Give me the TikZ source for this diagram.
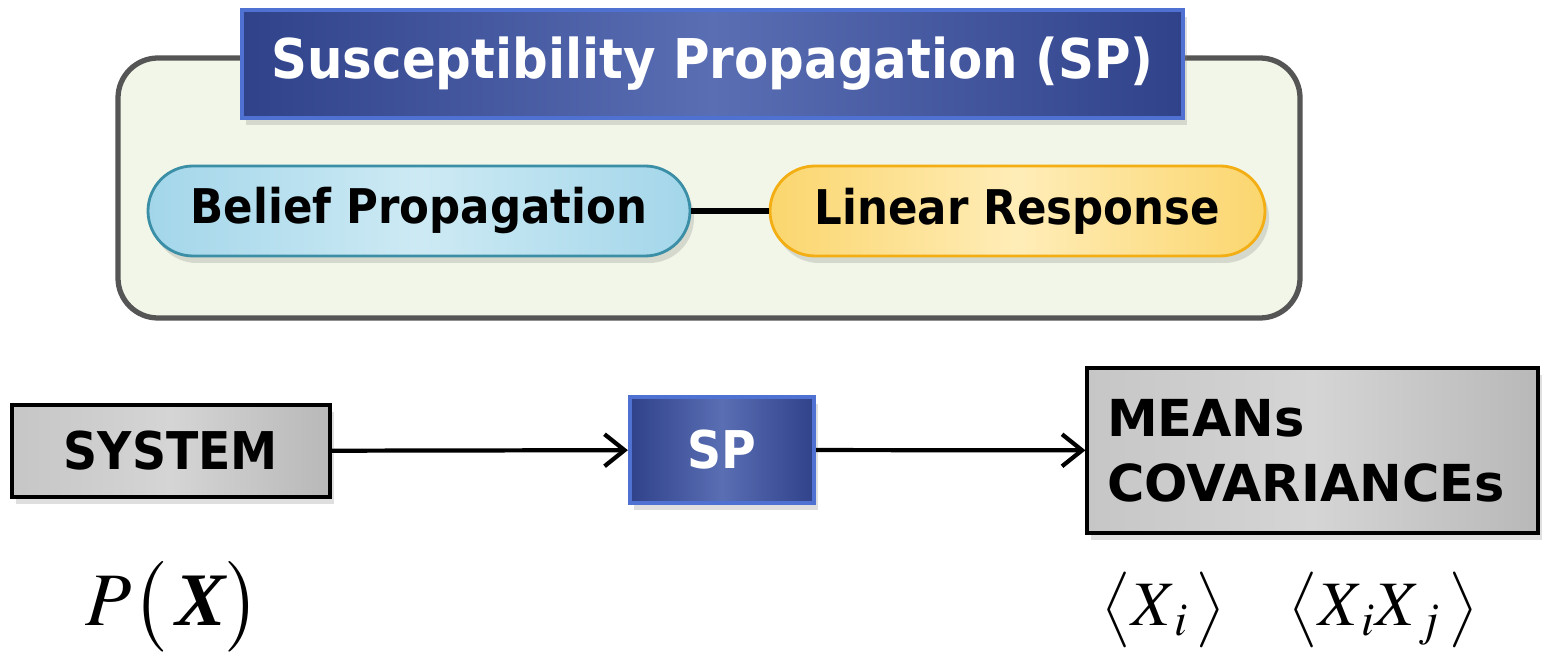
\documentclass[tikz,border=0pt]{standalone}
\usepackage{amsmath}
\usepackage{mathptmx}
\usepackage[no-math]{fontspec}
\newfontfamily\widefont{DejaVu Sans}
\newfontfamily\condfont[FakeStretch=0.91]{DejaVu Sans}
\newfontfamily\timesfont{Liberation Serif}
\usepackage{tikz}
\usetikzlibrary{positioning,arrows.meta,shadows}

\definecolor{spdark}{HTML}{2F428A}
\definecolor{splight}{HTML}{5A6EB4}
\definecolor{spedge}{HTML}{4F72D2}
\definecolor{framefill}{HTML}{F2F6E8}
\definecolor{framedraw}{HTML}{555555}
\definecolor{bpout}{HTML}{A3D6EA}
\definecolor{bpin}{HTML}{CDEAF4}
\definecolor{bpdraw}{HTML}{3A8EA6}
\definecolor{lrout}{HTML}{FBD66E}
\definecolor{lrin}{HTML}{FFEDB8}
\definecolor{lrdraw}{HTML}{F2AE12}
\definecolor{boxout}{HTML}{C6C6C6}
\definecolor{boxin}{HTML}{D5D5D5}

\tikzset{softshadow/.style={drop shadow={opacity=0.25,shadow xshift=0.4mm,shadow yshift=-0.7mm}}}
\tikzset{spframe/.style={draw=framedraw,line width=1.5pt,fill=framefill,rounded corners=0.4cm}}
\tikzset{bluebox/.style={draw=spedge,line width=1.2pt,left color=spdark,right color=spdark,middle color=splight,text=white,softshadow}}
\tikzset{pill/.style={rounded corners=0.45cm,line width=0.8pt,minimum height=0.9cm,font=\fontsize{13.6}{16}\condfont\bfseries,softshadow}}
\tikzset{graybox/.style={draw=black,line width=0.9pt,left color=boxout,right color=boxout!93!black,middle color=boxin,softshadow}}
\tikzset{flow/.style={line width=1.2pt,-{Straight Barb[length=2mm,width=3.2mm]}}}
\tikzset{link/.style={line width=1.9pt}}

\begin{document}
\begin{tikzpicture}

	\useasboundingbox (0,0) rectangle (15.45,-6.56);

	%% SP panel
	\node[spframe,minimum width=11.82cm,minimum height=2.6cm] (panel) at (7.09,-1.88) {};
	\node[bluebox,minimum width=9.41cm,minimum height=1.08cm,font=\fontsize{15.6}{18}\condfont\bfseries] (title) at (7.125,-0.64) {Susceptibility Propagation (SP)};

	\node[pill,draw=bpdraw,left color=bpout,right color=bpout,middle color=bpin,minimum width=5.42cm] (bp) at (4.19,-2.11) {Belief Propagation};
	\node[pill,draw=lrdraw,left color=lrout,right color=lrout,middle color=lrin,minimum width=4.95cm] (lr) at (10.175,-2.11) {Linear Response};
	\draw[link] (bp) -- (lr);
	%%

	%% flow
	\node[graybox,minimum width=3.18cm,minimum height=0.92cm,font=\fontsize{14.8}{18}\condfont\bfseries] (system) at (1.71,-4.51) {SYSTEM};
	\node[bluebox,minimum width=1.84cm,minimum height=1.06cm,font=\fontsize{14.8}{18}\condfont\bfseries] (sp) at (7.22,-4.5) {SP};
	\node[graybox,minimum width=4.51cm,minimum height=1.65cm,text width=4.11cm,align=left,inner xsep=0.2cm,font=\fontsize{14.5}{18.4}\widefont\bfseries] (means) at (13.125,-4.505) {MEANs\\COVARIANCEs};

	\draw[flow] (system) -- (sp);
	\draw[flow] (sp) -- (means);

	\node (px) at (1.73,-6.07) {\fontsize{21.5}{26}\selectfont $P\big(\,\text{\timesfont\bfseries\itshape X}\big)$};
	\node (moments) at (12.9,-6.1) {\fontsize{18}{22}\selectfont $\big\langle X_{\,i} \,\big\rangle \quad \big\langle X_{\,i} X_{\,j} \,\big\rangle$};

\end{tikzpicture}
\end{document}
